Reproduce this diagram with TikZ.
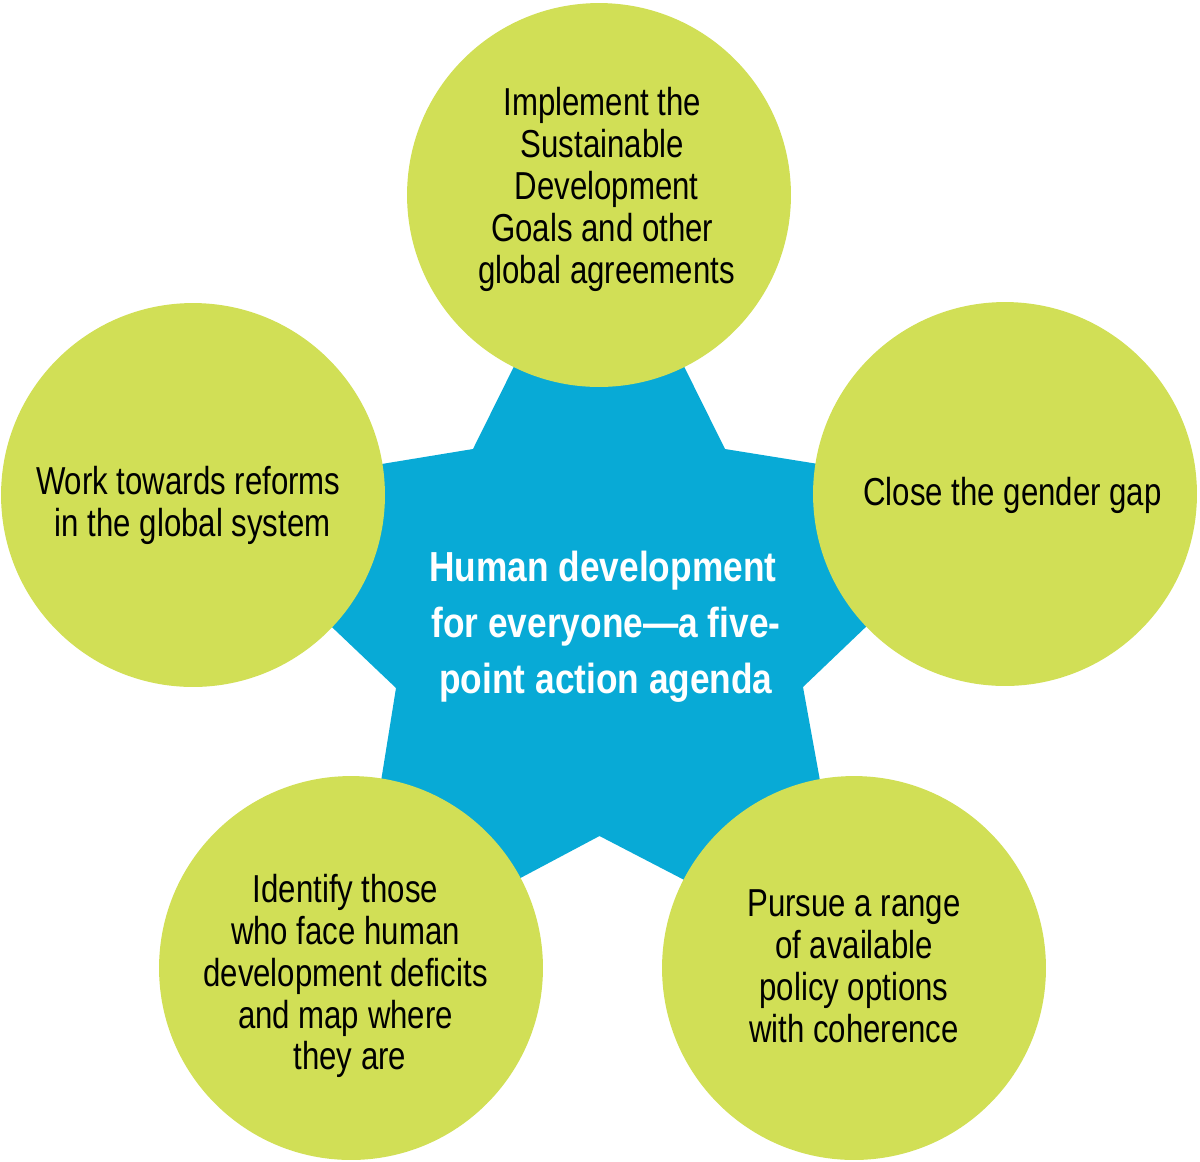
\documentclass[tikz,border=0pt]{standalone}
\usepackage{fontspec}
\newfontfamily\circfont{Liberation Sans}[FakeStretch=0.80]
\newfontfamily\hubfont{Liberation Sans}[FakeStretch=0.84]
\definecolor{leaf}{RGB}{209,223,86}
\definecolor{sky}{RGB}{8,170,214}
\newcommand{\lsp}{\hspace*{5pt}}
\begin{document}
\begin{tikzpicture}[x=0.02cm,y=-0.02cm,
  circ/.style={circle,fill=leaf,minimum size=7.68cm,inner sep=0pt},
  txt/.style={align=center,inner sep=0pt,text=black,
    font=\circfont\fontsize{22.19pt}{23.79pt}\selectfont},
  hub/.style={align=center,inner sep=0pt,text=white,
    font=\hubfont\bfseries\fontsize{23.9pt}{31.75pt}\selectfont}]
\useasboundingbox (0,0) rectangle (1200,1161);
% outer points (circle centres)
\coordinate (pT) at (599,195);
\coordinate (pR) at (1005,494);
\coordinate (pBR) at (854,968);
\coordinate (pBL) at (351,968);
\coordinate (pL) at (193,495);
% inner vertices of the star
\coordinate (iTR) at (725,449);
\coordinate (iR) at (803,687);
\coordinate (iB) at (599.5,836);
\coordinate (iL) at (396,688);
\coordinate (iTL) at (473,449);
% star
\fill[sky] (pT) -- (iTR) -- (pR) -- (iR) -- (pBR) -- (iB) -- (pBL) -- (iL) -- (pL) -- (iTL) -- cycle;
% circles
\node[circ] (cT) at (pT) {};
\node[circ] (cR) at (pR) {};
\node[circ] (cBR) at (pBR) {};
\node[circ] (cBL) at (pBL) {};
\node[circ] (cL) at (pL) {};
% texts
\node[txt] (tT) at (602.3,189.5) {Implement the\\Sustainable\\\lsp Development\\Goals and other\\\lsp global agreements};
\node[txt] (tR) at (1012.5,495.2) {Close the gender gap};
\node[txt] (tL) at (188.3,505.1) {Work towards reforms\\\lsp in the global system};
\node[txt] (tBL) at (345.5,976.2) {Identify those\\who face human\\development deficits\\and map where\\\lsp they are};
\node[txt] (tBR) at (854,966.2) {Pursue a range\\of available\lsp\\policy options\\with coherence};
\node[hub] (hub) at (606,626.9) {Human development\hspace*{3.5pt}\\for everyone—a five-\\point action agenda};
\end{tikzpicture}
\end{document}
